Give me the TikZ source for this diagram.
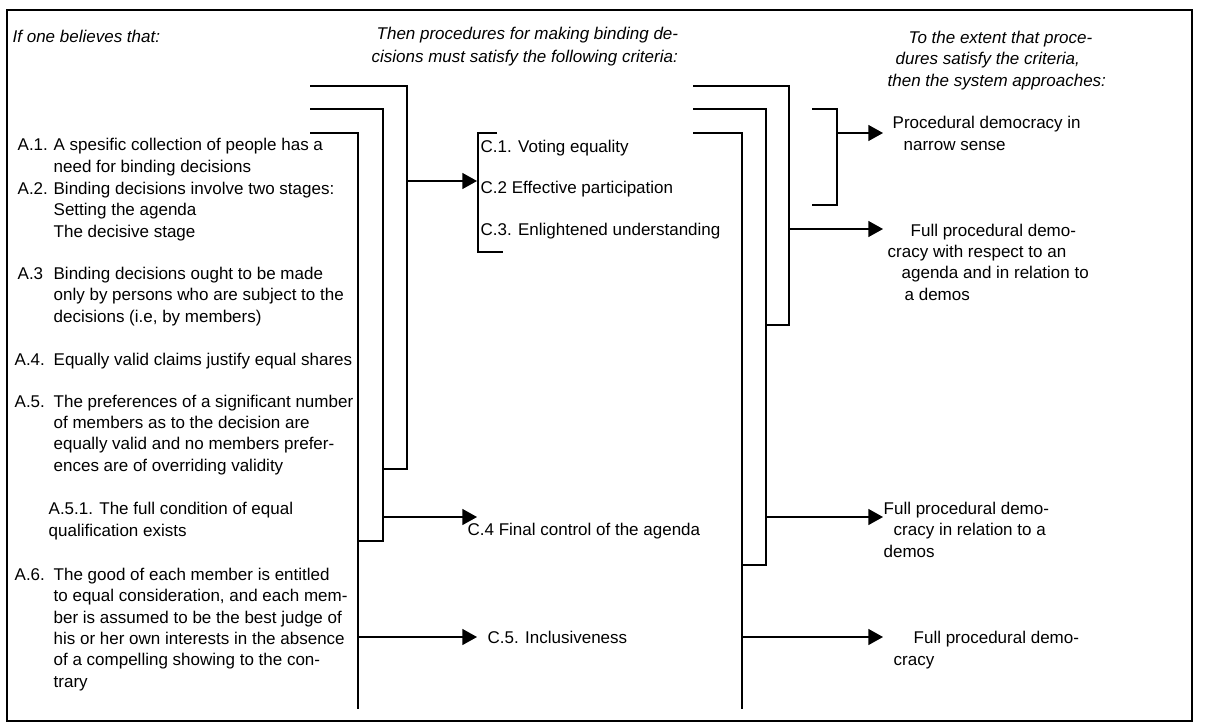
\documentclass[tikz,border=0pt]{standalone}
\usepackage{fontspec}
\setmainfont{Liberation Sans}
\usetikzlibrary{arrows.meta}
\newlength{\pxu}
\setlength{\pxu}{0.75pt}
\newcommand{\itm}[2][36]{\makebox[#1\pxu][l]{#2}}
\newcommand{\ind}[1][36]{\hspace*{#1\pxu}}

\begin{document}
\begin{tikzpicture}[x=0.75pt,y=-0.75pt,line width=1pt,
    txt/.style={anchor=base west,inner sep=0pt,align=left,font=\fontsize{12.75}{16}\selectfont},
    head/.style={txt,font=\fontsize{12.75}{16}\selectfont\itshape},
    arr/.style={-{Triangle[length=11pt,width=12pt]}}]
    \useasboundingbox (0,0) rectangle (1209,724);
    % frame
    \draw[line width=1.5pt] (7,10) rectangle (1192,721);

    % headings (placed at the baseline of their last line)
    \node[head] (h1) at (12,43) {If one believes that:};
    \node[head] (h2) at (371,63) {\ind[5]Then procedures for making binding de-\\[1.3pt]cisions must satisfy the following criteria:};
    \node[head] (h3) at (887,86) {\ind[21]To the extent that proce-\\\ind[8]dures satisfy the criteria,\\then the system approaches:};

    % beliefs
    \node[txt] (a1) at (17,172) {\itm{A.1.}A spesific collection of people has a\\\ind need for binding decisions};
    \node[txt] (a2) at (17,237) {\itm{A.2.}Binding decisions involve two stages:\\\ind Setting the agenda\\\ind The decisive stage};
    \node[txt] (a3) at (17,322) {\itm{A.3}Binding decisions ought to be made\\\ind only by persons who are subject to the\\\ind decisions (i.e, by members)};
    \node[txt] (a4) at (14,365) {\itm[39]{A.4.}Equally valid claims justify equal shares};
    \node[txt] (a5) at (14,471) {\itm[39]{A.5.}The preferences of a significant number\\\ind[39]of members as to the decision are\\\ind[39]equally valid and no members prefer-\\\ind[39]ences are of overriding validity};
    \node[txt] (a51) at (48,536) {A.5.1. The full condition of equal\\qualification exists};
    \node[txt] (a6) at (14,687) {\itm[39]{A.6.}The good of each member is entitled\\\ind[39]to equal consideration, and each mem-\\\ind[39]ber is assumed to be the best judge of\\\ind[39]his or her own interests in the absence\\\ind[39]of a compelling showing to the con-\\\ind[39]trary};

    % criteria
    \node[txt] (c1) at (480,152) {C.1. Voting equality};
    \node[txt] (c2) at (480,193) {C.2 Effective participation};
    \node[txt] (c3) at (480,235) {C.3. Enlightened understanding};
    \node[txt] (c4) at (467,535) {C.4 Final control of the agenda};
    \node[txt] (c5) at (487,643) {C.5. Inclusiveness};
    \draw (497,133) -- (478,133) -- (478,252) -- (503,252);

    % outcomes
    \node[txt] (r1) at (892,150) {Procedural democracy in\\\ind[11]narrow sense};
    \node[txt] (r2) at (887,300) {\ind[23]Full procedural demo-\\cracy with respect to an\\\ind[14]agenda and in relation to\\\ind[17]a demos};
    \node[txt] (r3) at (883,557) {Full procedural demo-\\\ind[10]cracy in relation to a\\demos};
    \node[txt] (r4) at (893,665) {\ind[20]Full procedural demo-\\cracy};

    % arrow tips line up here
    \coordinate (tipL) at (477,0);
    \coordinate (tipR) at (883,0);

    % left brackets
    \coordinate (p1) at (310,86);
    \coordinate (p2) at (310,109);
    \coordinate (p3) at (310,133);
    \draw (p1) -| (407,469) -- (383,469);
    \draw (p2) -| (383,541) -- (358,541);
    \draw (p3) -| (358,709);
    \coordinate (s1) at (407,181);
    \coordinate (s2) at (383,517);
    \coordinate (s3) at (358,637);
    \draw[arr] (s1) -- (s1 -| tipL);
    \draw[arr] (s2) -- (s2 -| tipL);
    \draw[arr] (s3) -- (s3 -| tipL);

    % right brackets
    \coordinate (q1) at (693,86);
    \coordinate (q2) at (693,109);
    \coordinate (q3) at (693,133);
    \draw (q1) -| (789,325) -- (766,325);
    \draw (q2) -| (766,565) -- (742,565);
    \draw (q3) -| (742,709);
    \draw (812,109) -| (837,205) -- (812,205);
    \coordinate (u0) at (837,133);
    \coordinate (u1) at (789,229);
    \coordinate (u2) at (766,517);
    \coordinate (u3) at (742,637);
    \draw[arr] (u0) -- (u0 -| tipR);
    \draw[arr] (u1) -- (u1 -| tipR);
    \draw[arr] (u2) -- (u2 -| tipR);
    \draw[arr] (u3) -- (u3 -| tipR);
\end{tikzpicture}
\end{document}
